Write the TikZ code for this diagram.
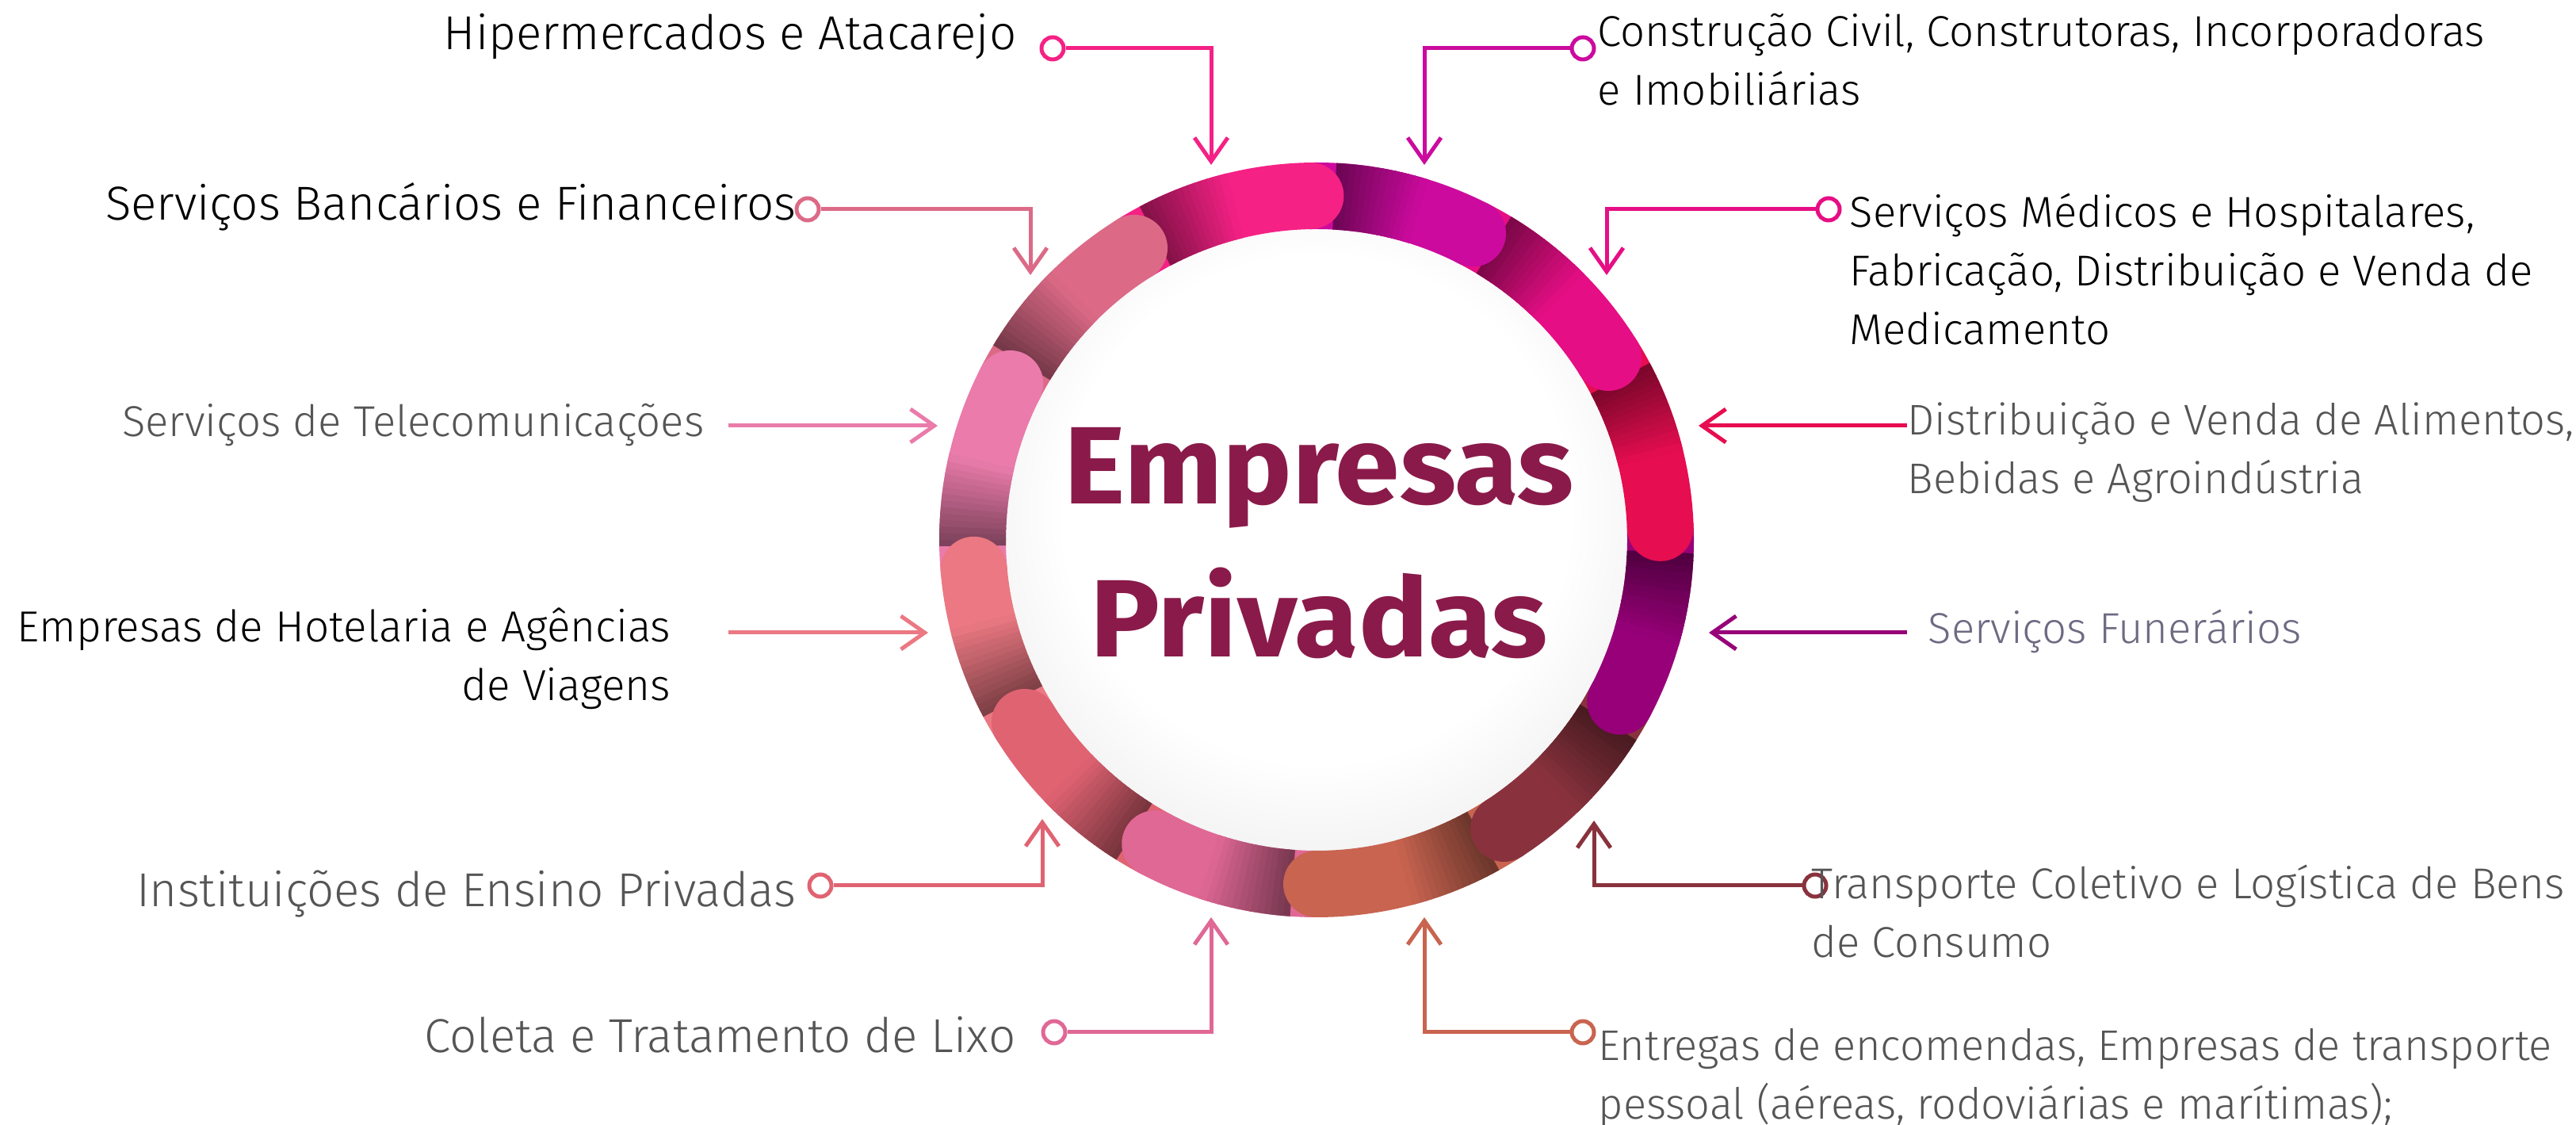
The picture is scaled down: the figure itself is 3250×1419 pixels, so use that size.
\documentclass[tikz,border=0pt]{standalone}
\usepackage{fontspec}
\setmainfont{Fira Sans Light}[BoldFont={Fira Sans Bold}, BoldFeatures={FakeStretch=1.06}]
\usetikzlibrary{arrows.meta,calc}

\definecolor{hiper}{HTML}{F52185}
\definecolor{constr}{HTML}{CC0A9E}
\definecolor{medic}{HTML}{E60E85}
\definecolor{alim}{HTML}{E60D50}
\definecolor{funer}{HTML}{970078}
\definecolor{transp}{HTML}{89323D}
\definecolor{entreg}{HTML}{C86450}
\definecolor{lixo}{HTML}{E06895}
\definecolor{ensino}{HTML}{E06372}
\definecolor{hotel}{HTML}{EB7882}
\definecolor{telec}{HTML}{EA7BAA}
\definecolor{banc}{HTML}{DC6A87}
\definecolor{txtgray}{HTML}{555555}
\definecolor{funtxt}{HTML}{6E6A82}
\definecolor{titlecol}{HTML}{8A1A4A}

\newcommand{\rlines}[1]{\begin{tabular}[t]{@{}r@{}}#1\end{tabular}}
\newcommand{\llines}[1]{\begin{tabular}[t]{@{}l@{}}#1\end{tabular}}

\pgfdeclareradialshading{innerglow}{\pgfpoint{0bp}{4bp}}{color(0bp)=(white); color(20bp)=(white); color(32bp)=(black!8); color(42bp)=(black!18); color(50bp)=(black!31)}

\begin{document}
\begin{tikzpicture}[x=0.1mm, y=0.1mm,
    lbl/.style={font=\fontsize{#1}{21}\selectfont, inner sep=0pt},
    lbll/.style={lbl=#1, anchor=base east},
    lblr/.style={lbl=#1, anchor=base west},
    conn/.style={line width=0.5mm, draw=#1, -{Straight Barb[length=3mm, width=4.2mm]}},
    dot/.style={circle, draw=#1, fill=white, line width=0.5mm, minimum size=2.8mm, inner sep=0pt},
    seg/.style={line width=8.4mm, draw=#1}]
    \useasboundingbox (0,0) rectangle (3250,1419);

    \coordinate (C) at (1661,738);
    \shade[shading=innerglow] (C) circle[radius=40mm];

    % ring
    \foreach \clr/\sa/\sb in {hiper/122/91, constr/91/63, medic/63/32, alim/32/2,
                              funer/2/-28, transp/-28/-57, entreg/-57/-90, lixo/-90/-118,
                              ensino/-118/-148, hotel/-148/-175, telec/185/153, banc/153/122} {
        \draw[seg=\clr] ($(C)+(\sa:43.4mm)$) arc[start angle=\sa, end angle=\sb, radius=43.4mm];
        \foreach \i in {0,...,13} {
            \pgfmathsetmacro\ang{\sa-4-\i}
            \pgfmathtruncatemacro\pct{54+3.4*\i}
            \draw[seg={\clr!\pct!black}] ($(C)+(\ang:43.4mm)$) arc[start angle=\ang, end angle=\ang-1.3, radius=43.4mm];
        }
    }
    \foreach \clr/\sb in {hiper/91, constr/63, medic/32, alim/2, funer/-28, transp/-57,
                          entreg/-90, lixo/-118, ensino/-148, hotel/-175, telec/153, banc/122}
        \fill[\clr] ($(C)+(\sb:43.4mm)$) circle[radius=4.2mm];

    \node[font=\fontsize{39.5}{54.9}\selectfont\bfseries, text=titlecol, anchor=base, inner sep=0pt] (title) at (1664,783)
        {\begin{tabular}[t]{@{}c@{}}Empresas\\Privadas\end{tabular}};

    \node[dot=hiper]  (m1)  at (1328,1358) {};
    \node[dot=constr] (m2)  at (1997,1358) {};
    \node[dot=banc]   (m3)  at (1019,1155) {};
    \node[dot=medic]  (m4)  at (2307,1155) {};
    \node[dot=ensino] (m9)  at (1035,302) {};
    \node[dot=transp] (m10) at (2290,302) {};
    \node[dot=lixo]   (m11) at (1330,117) {};
    \node[dot=entreg] (m12) at (1997,117) {};

    \coordinate (t1)  at (1528,1211);
    \coordinate (t2)  at (1797,1211);
    \coordinate (t3)  at (1300,1072);
    \coordinate (t4)  at (2027,1072);
    \coordinate (s5)  at (919,882);
    \coordinate (t5)  at (1183,882);
    \coordinate (s6)  at (2406,882);
    \coordinate (t6)  at (2143,882);
    \coordinate (s7)  at (919,621);
    \coordinate (t7)  at (1171,621);
    \coordinate (s8)  at (2406,621);
    \coordinate (t8)  at (2156,621);
    \coordinate (t9)  at (1315,386);
    \coordinate (t10) at (2011,384);
    \coordinate (t11) at (1528,262);
    \coordinate (t12) at (1797,262);

    \draw[conn=hiper]  (m1) -| (t1);
    \draw[conn=constr] (m2) -| (t2);
    \draw[conn=banc]   (m3) -| (t3);
    \draw[conn=medic]  (m4) -| (t4);
    \draw[conn=telec]  (s5) -- (t5);
    \draw[conn=alim]   (s6) -- (t6);
    \draw[conn=hotel]  (s7) -- (t7);
    \draw[conn=funer]  (s8) -- (t8);
    \draw[conn=ensino] (m9) -| (t9);
    \draw[conn=transp] (m10) -| (t10);
    \draw[conn=lixo]   (m11) -| (t11);
    \draw[conn=entreg] (m12) -| (t12);

    \node[lbll=17.1] (l1) at (1283,1356) {Hipermercados e Atacarejo};
    \node[lbll=17.1] (l3) at (1005,1141) {Serviços Bancários e Financeiros};
    \node[lbll=15.5, text=txtgray] (l5) at (889,868) {Serviços de Telecomunicações};
    \node[lbll=15.6] (l7) at (847,609) {\rlines{Empresas de Hotelaria e Agências\\de Viagens}};
    \node[lbll=17.1, text=txtgray] (l9) at (1005,275) {Instituições de Ensino Privadas};
    \node[lbll=17.1, text=txtgray] (l11) at (1282,91) {Coleta e Tratamento de Lixo};

    \node[lblr=15.5] (l2) at (2015,1360) {\llines{Construção Civil, Construtoras, Incorporadoras\\e Imobiliárias}};
    \node[lblr=15.5] (l4) at (2333,1132) {\llines{Serviços Médicos e Hospitalares,\\Fabricação, Distribuição e Venda de\\Medicamento}};
    \node[lblr=15.4, text=txtgray] (l6) at (2406,870) {\llines{Distribuição e Venda de Alimentos,\\Bebidas e Agroindústria}};
    \node[lblr=15.5, text=funtxt] (l8) at (2432,607) {Serviços Funerários};
    \node[lblr=15.5, text=txtgray] (l10) at (2285,285) {\llines{Transporte Coletivo e Logística de Bens\\de Consumo}};
    \node[lblr=15.4, text=txtgray] (l12) at (2016,81) {\llines{Entregas de encomendas, Empresas de transporte\\pessoal (aéreas, rodoviárias e marítimas);}};
\end{tikzpicture}
\end{document}
